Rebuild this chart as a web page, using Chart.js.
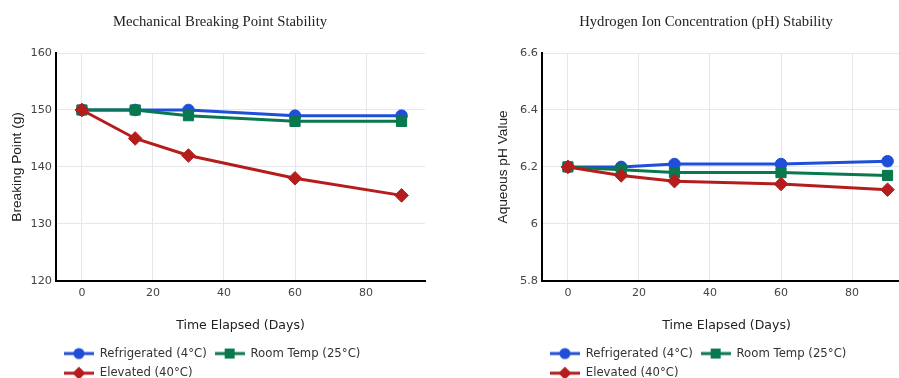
<!DOCTYPE html>
<html>
<head>
<meta charset="utf-8">
<script src="https://cdn.jsdelivr.net/npm/chart.js@4.4.1/dist/chart.umd.min.js"></script>
<style>
  html, body { margin: 0; padding: 0; background: #fff; overflow: hidden; width: 899px; height: 378px; }
  .panel { position: absolute; top: 0; width: 486px; height: 389px; }
</style>
</head>
<body>
<div class="panel" style="left:0"><canvas id="breakChart" width="486" height="389"></canvas></div>
<div class="panel" style="left:486px"><canvas id="phChart" width="486" height="389"></canvas></div>
<script>
const days = [0, 15, 30, 60, 90];
const seriesNames = ['Refrigerated (4°C)', 'Room Temp (25°C)', 'Elevated (40°C)'];

const breakRefrigerated = [150, 150, 150, 149, 149];
const breakRoomTemp = [150, 150, 149, 148, 148];
const breakElevated = [150, 145, 142, 138, 135];

const phRefrigerated = [6.20, 6.20, 6.21, 6.21, 6.22];
const phRoomTemp = [6.20, 6.19, 6.18, 6.18, 6.17];
const phElevated = [6.20, 6.17, 6.15, 6.14, 6.12];

const dayTicks = [0, 20, 40, 60, 80];
const breakTicks = [120, 130, 140, 150, 160];
const phTicks = [5.8, 6, 6.2, 6.4, 6.6];
const phTickLabels = ['5.8', '6', '6.2', '6.4', '6.6'];

const colors = ['#1f4fd8', '#08784f', '#b51d1d'];
const shapes = ['circle', 'rect', 'rectRot'];
const radii = [5.8, 7.2, 6.8];

const sans = 'DejaVu Sans';
const gridColor = '#e6e7ec';

// little line + marker pictures for the legend
function legendIcon(i) {
  const c = document.createElement('canvas');
  c.width = 30; c.height = 16;
  const g = c.getContext('2d');
  g.strokeStyle = colors[i];
  g.fillStyle = colors[i];
  g.lineWidth = 3;
  g.beginPath(); g.moveTo(0, 8); g.lineTo(30, 8); g.stroke();
  g.beginPath();
  if (shapes[i] === 'circle') {
    g.arc(15, 8, 5.5, 0, Math.PI * 2);
  } else if (shapes[i] === 'rect') {
    g.rect(10, 3, 10, 10);
  } else {
    g.moveTo(15, 1.5); g.lineTo(21.5, 8); g.lineTo(15, 14.5); g.lineTo(8.5, 8); g.closePath();
  }
  g.fill();
  return c;
}

function makeChart(id, title, yTitle, seriesValues, yMin, yMax, yTickValues, yLabel) {
  const datasets = seriesValues.map((vals, i) => ({
    label: seriesNames[i],
    data: days.map((d, k) => ({ x: d, y: vals[k] })),
    borderColor: colors[i],
    backgroundColor: colors[i],
    borderWidth: 3,
    pointStyle: shapes[i],
    pointRadius: radii[i],
    pointHoverRadius: radii[i],
    pointBorderWidth: 1,
    order: 2 - i,
    tension: 0
  }));

  return new Chart(document.getElementById(id), {
    type: 'line',
    data: { datasets },
    options: {
      responsive: false,
      animation: false,
      layout: { padding: { left: 15, right: 61, top: 0, bottom: 0 } },
      plugins: {
        title: {
          display: true,
          text: title,
          color: '#222',
          font: { family: 'Liberation Serif', size: 14.7, weight: 'normal' },
          padding: { top: 13.2, bottom: 22.2 }
        },
        legend: {
          position: 'bottom',
          align: 'start',
          fullSize: false,
          labels: {
            usePointStyle: true,
            pointStyleWidth: 30,
            padding: 7.9,
            color: '#333',
            font: { family: sans, size: 11.7 },
            generateLabels: (chart) => chart.data.datasets.map((ds, i) => ({
              text: ds.label,
              pointStyle: legendIcon(i),
              fillStyle: colors[i],
              strokeStyle: colors[i],
              lineWidth: 0,
              fontColor: '#333',
              hidden: false,
              datasetIndex: i
            }))
          }
        },
        tooltip: { enabled: false }
      },
      scales: {
        x: {
          type: 'linear',
          min: -7.3,
          max: 96.6,
          afterBuildTicks: (s) => { s.ticks = dayTicks.map(v => ({ value: v })); },
          afterFit: (s) => { s.height = 59; },
          grid: { color: gridColor, drawTicks: false },
          border: { display: true, color: '#000', width: 2 },
          ticks: { color: '#444', padding: 6, font: { family: sans, size: 11 } },
          title: {
            display: true,
            text: 'Time Elapsed (Days)',
            color: '#222',
            font: { family: sans, size: 12.5 },
            padding: { top: 0, bottom: 6.3 }
          }
        },
        y: {
          min: yMin,
          max: yMax,
          afterBuildTicks: (s) => { s.ticks = yTickValues.map(v => ({ value: v })); },
          afterFit: (s) => { s.width = 41; },
          grid: { color: gridColor, drawTicks: false },
          border: { display: true, color: '#000', width: 2 },
          ticks: {
            color: '#444',
            padding: 4,
            font: { family: sans, size: 11.3 },
            callback: (v) => yLabel ? yLabel[yTickValues.indexOf(v)] : String(v)
          },
          title: {
            display: true,
            text: yTitle,
            color: '#222',
            font: { family: 'Liberation Sans', size: 13.7 },
            padding: { top: -6, bottom: 0 }
          }
        }
      }
    }
  });
}

makeChart('breakChart', 'Mechanical Breaking Point Stability', 'Breaking Point (g)',
  [breakRefrigerated, breakRoomTemp, breakElevated], 120, 160, breakTicks, null);
makeChart('phChart', 'Hydrogen Ion Concentration (pH) Stability', 'Aqueous pH Value',
  [phRefrigerated, phRoomTemp, phElevated], 5.8, 6.6, phTicks, phTickLabels);
</script>
</body>
</html>
